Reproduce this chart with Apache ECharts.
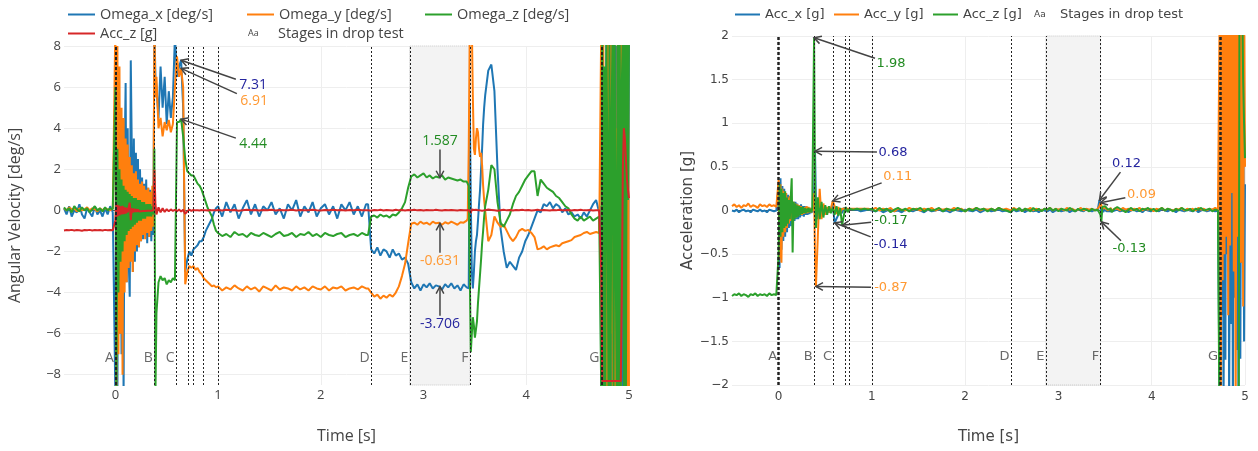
<!DOCTYPE html>
<html>
<head>
<meta charset="utf-8">
<title>Drop test</title>
<script src="https://cdn.jsdelivr.net/npm/echarts@6/dist/echarts.min.js"></script>
<style>
  html, body { margin: 0; padding: 0; background: #fff; }
  #chart { width: 1258px; height: 451px; }
</style>
</head>
<body>
<div id="chart"></div>
<script>
// sample times [s], one row per segment of the recording
const time = [
  [-0.5, -0.475, -0.45, -0.425, -0.4, -0.375, -0.35, -0.325, -0.3, -0.275, -0.25, -0.225, -0.2, -0.175, -0.15, -0.125, -0.1, -0.075, -0.05, -0.025],
  [0, 0.01, 0.02, 0.03, 0.04, 0.05, 0.06, 0.07, 0.08, 0.09, 0.1, 0.11, 0.12, 0.13, 0.14, 0.15, 0.16, 0.17, 0.18, 0.19, 0.2, 0.21, 0.22, 0.23, 0.24, 0.25, 0.26, 0.27, 0.28, 0.29, 0.3, 0.31, 0.32, 0.33, 0.34, 0.35, 0.36, 0.37, 0.38, 0.39],
  [0.4, 0.42, 0.44, 0.46, 0.48, 0.5, 0.52, 0.54, 0.56, 0.58, 0.6, 0.62, 0.64, 0.66, 0.68, 0.7, 0.72, 0.74, 0.76, 0.78, 0.8, 0.82, 0.84, 0.86, 0.88, 0.9, 0.92, 0.94, 0.96, 0.98],
  [1, 1.04, 1.08, 1.12, 1.16, 1.2, 1.24, 1.28, 1.32, 1.36, 1.4, 1.44, 1.48, 1.52, 1.56, 1.6, 1.64, 1.68, 1.72, 1.76, 1.8, 1.84, 1.88, 1.92, 1.96, 2, 2.04, 2.08, 2.12, 2.16, 2.2, 2.24, 2.28, 2.32, 2.36, 2.4, 2.44],
  [2.46, 2.49, 2.52, 2.55, 2.58, 2.61, 2.64, 2.67, 2.7, 2.73, 2.76, 2.79, 2.82, 2.85, 2.88, 2.91, 2.94, 2.97, 3, 3.03, 3.06, 3.09, 3.12, 3.15, 3.18, 3.21, 3.24, 3.27, 3.3, 3.33, 3.36, 3.39, 3.42],
  [3.43, 3.44, 3.45, 3.46, 3.47, 3.48, 3.49, 3.5, 3.51, 3.52, 3.53, 3.54, 3.55, 3.56, 3.57, 3.58, 3.59, 3.6],
  [3.63, 3.66, 3.69, 3.72, 3.75, 3.78, 3.81, 3.84, 3.87, 3.9, 3.93, 3.96, 3.99, 4.02, 4.05, 4.08, 4.11, 4.14, 4.17, 4.2, 4.23, 4.26, 4.29, 4.32, 4.35, 4.38, 4.41, 4.44, 4.47, 4.5, 4.53, 4.56, 4.59, 4.62, 4.65, 4.68, 4.71],
  [4.72, 4.73, 4.74, 4.75, 4.76, 4.77, 4.78, 4.79, 4.8, 4.81, 4.82, 4.83, 4.84, 4.85, 4.86, 4.87, 4.88, 4.89, 4.9, 4.91, 4.92, 4.93, 4.94, 4.95, 4.96, 4.97, 4.98, 4.99, 5]
]

// angular velocity [deg/s]
const omegaX = [
  [0.1, -0.2, 0.2, -0.3, 0, -0.1, 0.3, -0.2, -0.4, 0.1, -0.1, -0.3, 0.2, -0.2, 0, -0.3, 0.1, -0.2, 0.2, -0.1],
  [-9, 3, -9, 5, -6, 4, -7, 3.5, -9, 2.5, 6.2, -3.5, 4, -2.5, -4.2, 7.3, 3, -3, 3.5, -2.5, 2.8, -2, 2.5, -1.8, 2, -1.5, 1.6, -1.4, 1.3, -1.2, 1.5, -1.6, 1.1, -1.3, 1, -1.5, 0.8, -1.2, 9, 6.5],
  [6, 4.5, 7, 5, 6.5, 4.2, 5.8, 4.5, 5.5, 8.5, 6.5, 7, 7.31, 5, -3, -2.4, -2, -2.2, -1.9, -1.8, -1.7, -1.5, -1.5, -1.3, -1, -0.8, -0.6, -0.4, -0.1, 0.1],
  [0.2, -0.3, 0.4, -0.1, 0.3, -0.4, 0.1, 0.5, -0.2, 0.3, -0.3, 0.2, 0, 0.4, -0.2, 0.1, -0.4, 0.3, 0, 0.5, -0.3, 0.2, -0.1, 0.4, -0.3, 0.1, 0.3, -0.2, 0.2, -0.4, 0.3, 0, 0.4, -0.2, 0.2, -0.3, 0.3],
  [0.3, -1.9, -2.1, -1.8, -2.2, -1.9, -2, -2.3, -1.9, -2.2, -2.1, -2.4, -2.3, -2.6, -3.5, -3.8, -3.6, -3.9, -3.6, -3.75, -3.55, -3.8, -3.65, -3.7, -3.85, -3.6, -3.75, -3.55, -3.8, -3.65, -3.9, -3.6, -3.75],
  [-3.7, -3.8, 5.2, 0.5, -3, -3.8, -3, -2, -1.5, -1.2, -0.5, 0.3, 1, 2, 3, 4.2, 5, 5.6],
  [6.8, 7.1, 5.8, 2, -0.9, -2, -2.8, -2.5, -2.7, -2.9, -2.3, -2, -1.5, -1.2, -0.8, -0.4, 0, -0.1, 0.3, 0.2, 0.4, 0.1, 0.3, 0.2, -0.1, 0.1, -0.2, -0.1, -0.3, -0.2, -0.4, -0.1, -0.3, 0, 0.3, 0.5, -0.1],
  [0.2, -9, 9, -9, 6, -9, 9, -4, 9, -9, 3, -9, 9, -7, 9, -9, 8, -9, 9, -5, 9, -9, 9, -9, 7, -9, 9, -6, 9]
]
const omegaY = [
  [0.1, 0, 0.15, 0.05, 0.1, -0.05, 0.1, 0, 0.05, 0.15, 0, 0.1, 0.05, -0.05, 0.1, 0, 0.1, 0.05, 0, 0.1],
  [9, -9, 8, -7, 7, -6, 5, -8, 4.5, -4, 3.5, -3.5, 3.2, -2.8, 2.6, -2.5, 2.2, -3, 1.8, -2, 1.9, -1.7, 1.5, -1.8, 1.3, -1.5, 1.4, -1.2, 1.2, -1.4, 1, -1.1, 1.1, -1.3, 0.9, -1, 1.2, -0.8, 9, 5.5],
  [6.5, 4, 4.5, 3.6, 4.3, 3.9, 4.4, 3.8, 4.2, 6, 7.5, 6.5, 6.91, 6, -3.6, -3, -2.7, -2.8, -2.7, -2.9, -2.8, -3, -3.1, -3.3, -3.4, -3.5, -3.6, -3.7, -3.65, -3.75],
  [-3.7, -3.9, -3.75, -3.85, -3.65, -3.8, -3.9, -3.7, -3.85, -3.75, -3.95, -3.7, -3.8, -3.9, -3.65, -3.85, -3.75, -3.8, -3.9, -3.7, -3.85, -3.75, -3.9, -3.7, -3.8, -3.85, -3.7, -3.9, -3.75, -3.8, -3.7, -3.9, -3.8, -3.75, -3.85, -3.7, -3.8],
  [-3.8, -4, -4.2, -4.1, -4.3, -4.15, -4.25, -4.1, -4.2, -4, -3.7, -3.2, -2.6, -1.6, -0.65, -0.6, -0.7, -0.55, -0.65, -0.6, -0.7, -0.55, -0.63, -0.6, -0.7, -0.58, -0.65, -0.55, -0.62, -0.7, -0.58, -0.6, -0.5],
  [-0.4, 3, 9, 9, 9, 5.5, 3, 2.7, 3.5, 4, 3.8, 3, 2.6, 2.8, 2.2, 1.2, 0.5, 0],
  [-1.5, -1.2, -0.3, -0.6, -0.8, -0.7, -1, -1.3, -1.5, -1.3, -1, -0.9, -1, -0.95, -1.1, -1.3, -1.9, -1.85, -1.75, -1.9, -1.8, -1.75, -1.7, -1.75, -1.6, -1.55, -1.5, -1.45, -1.3, -1.25, -1.2, -1.1, -1.05, -1.15, -1.1, -1.05, -1.1],
  [-1.1, 9, -9, 9, -9, 5, -9, 9, -9, 9, -6, 9, -9, 9, -9, 4, -9, 9, -9, 9, -9, 9, -3, 9, -9, 9, -9, 9, -9]
]
const omegaZ = [
  [0.15, 0, 0.1, -0.1, 0.2, 0.05, -0.05, 0.15, 0, 0.1, -0.1, 0.05, 0.2, 0, 0.1, -0.05, 0.15, 0, 0.1, 0.05],
  [6, -9, 3, -4, 2, -2.5, 1.5, -2, 1.2, -1.5, 1, -1.2, 0.9, -1, 0.8, -0.9, 0.7, -0.8, 0.6, -0.7, 0.6, -0.6, 0.5, -0.5, 0.5, -0.5, 0.4, -0.4, 0.4, -0.4, 0.3, -0.3, 0.3, -0.3, 0.3, -0.3, 0.2, -0.2, 3, -9],
  [-5, -3.5, -3.2, -3.4, -3.3, -3.6, -3.4, -3.5, -3.3, -3.4, 4.3, 4.3, 4.44, 3.6, 2.5, 1.9, 1.8, 1.7, 1.7, 1.5, 1.3, 1.2, 1, 0.7, 0.4, 0.1, -0.1, -0.3, -0.7, -1],
  [-1.1, -1.25, -1.15, -1.3, -1.05, -1.2, -1.15, -1.3, -1.1, -1.2, -1.25, -1.1, -1.2, -1.3, -1.15, -1.05, -1.25, -1.2, -1.1, -1.3, -1.15, -1.2, -1.05, -1.25, -1.15, -1.3, -1.1, -1.2, -1.25, -1.15, -1.1, -1.3, -1.2, -1.15, -1.25, -1.1, -1.2],
  [-1.2, -0.3, -0.25, -0.35, -0.2, -0.3, -0.25, -0.35, -0.2, -0.25, -0.1, 0.1, 0.4, 1.1, 1.65, 1.75, 1.6, 1.7, 1.8, 1.6, 1.7, 1.55, 1.65, 1.6, 1.7, 1.5, 1.6, 1.55, 1.5, 1.45, 1.5, 1.4, 1.4],
  [1.4, 1.2, -3, -6.9, -6, -5.2, -5.6, -6.2, -5.8, -5.4, -4.5, -3.8, -3.1, -2.4, -1.6, -1, -0.3, 0.2],
  [1, 2.2, 2, 0.4, -0.6, -0.8, -0.5, -0.2, 0.3, 0.7, 0.9, 1.2, 1.5, 1.7, 1.9, 1.9, 0.7, 1.5, 1.3, 1.1, 1, 0.9, 0.7, 0.6, 0.4, 0.2, 0.1, -0.2, -0.4, -0.5, -0.3, -0.5, -0.4, -0.3, -0.5, -0.4, -0.3],
  [-0.3, -9, 9, -9, 7, -9, 9, 2, -9, 9, -9, 4, 9, -9, 9, -2, -9, 9, -9, 9, -9, 6, 9, -9, 9, -9, 9, 0.5, 9]
]

// acceleration [g]
const accX = [
  [0, -0.01, 0.01, -0.02, 0, 0.01, -0.01, 0, -0.02, 0.01, 0, -0.01, 0.01, -0.01, 0, -0.02, 0.01, 0, -0.01, 0],
  [0.3, -0.66, 0.37, -0.45, 0.28, -0.35, 0.25, -0.3, 0.2, -0.25, 0.18, -0.2, 0.15, -0.18, 0.12, -0.15, 0.1, -0.12, 0.1, -0.1, 0.08, -0.1, 0.06, -0.08, 0.07, -0.06, 0.05, -0.07, 0.05, -0.05, 0.04, -0.05, 0.03, -0.04, 0.03, -0.03, 0.02, -0.02, 0.2, 0.68],
  [0.1, -0.1, 0.08, -0.05, 0.04, -0.03, 0.02, -0.02, 0.02, 0.08, -0.14, -0.12, -0.05, 0.02, -0.03, 0.03, 0.01, -0.01, 0.02, 0, 0.01, -0.01, 0.01, 0, -0.01, 0.01, 0, -0.01, 0.01, 0],
  [0, -0.01, 0.01, -0.02, 0, 0.01, -0.01, 0, -0.02, 0.01, 0, -0.01, 0.01, 0, -0.02, 0.01, -0.01, 0, 0.01, -0.01, 0, -0.02, 0.01, 0, -0.01, 0.01, 0, -0.01, 0.01, -0.02, 0, 0.01, -0.01, 0, 0.01, -0.01, 0],
  [0, -0.02, 0.01, -0.01, 0, 0.01, -0.02, 0, 0.01, -0.01, 0, -0.02, 0.01, 0, -0.01, 0.01, -0.02, 0, 0.01, -0.01, 0, 0.01, -0.02, 0, -0.01, 0.01, 0, -0.01, 0.02, 0, -0.01, 0.01, 0],
  [0, 0.12, 0.05, -0.05, 0.02, -0.02, 0.01, 0, 0.01, -0.01, 0, 0.01, -0.01, 0, 0.01, -0.01, 0, 0.01],
  [0.01, -0.01, 0, 0.01, -0.02, 0, 0.01, -0.01, 0, -0.02, 0.01, 0, -0.01, 0.01, 0, -0.01, 0.02, 0, -0.01, 0.01, 0, -0.02, 0.01, 0, -0.01, 0.01, 0, -0.01, 0.01, -0.02, 0, 0.01, -0.01, 0, 0.01, -0.01, 0],
  [0, -2.5, 2.5, -1.2, 2.5, -2.5, 1.5, -1.71, 2.5, -0.5, 2.5, -2.5, 1, -1.3, 2.5, -2.5, 0.8, -1, 2.5, -1.6, 2.5, -2.5, 0.5, -1.7, 1.5, -0.6, 2, -1.5, 0.3]
]
const accY = [
  [0.05, 0.07, 0.04, 0.06, 0.03, 0.06, 0.05, 0.08, 0.04, 0.06, 0.05, 0.03, 0.07, 0.05, 0.06, 0.04, 0.07, 0.05, 0.06, 0.04],
  [0.35, -0.55, 0.3, -0.6, 0.25, -0.3, 0.22, -0.25, 0.2, -0.2, 0.15, -0.15, 0.17, -0.12, 0.12, -0.1, 0.1, -0.08, 0.08, -0.08, 0.07, -0.06, 0.06, -0.05, 0.05, -0.05, 0.04, -0.04, 0.04, -0.03, 0.05, -0.03, 0.04, -0.02, 0.03, -0.02, 0.03, 0, 0.2, -0.5],
  [-0.87, -0.3, 0.25, -0.1, 0.08, -0.05, 0.04, -0.02, 0.02, 0.11, 0.05, -0.04, 0.04, -0.03, 0.02, 0, 0.02, 0, 0.02, 0.01, 0.02, 0, 0.02, 0.01, 0.02, 0, 0.02, 0.01, 0.02, 0.01],
  [0.01, 0.03, 0, 0.02, 0.01, 0.03, -0.01, 0.02, 0.01, 0, 0.03, 0.01, 0.02, 0, 0.02, 0.01, 0.03, 0, 0.02, 0.01, 0.02, 0, 0.03, 0.01, 0.02, -0.01, 0.02, 0.01, 0.03, 0, 0.02, 0.01, 0.02, 0, 0.03, 0.01, 0.02],
  [0.02, 0, 0.03, 0.01, 0.02, -0.01, 0.02, 0.01, 0.03, 0, 0.02, 0.01, 0, 0.02, 0.01, 0.03, 0, 0.02, 0.01, 0.02, 0, 0.03, 0.01, 0.02, 0, 0.01, 0.03, 0, 0.02, 0.01, 0.02, 0, 0.02],
  [0.02, 0.05, 0.09, 0.06, 0.02, 0.04, 0, 0.03, 0.01, 0.02, 0, 0.02, 0.01, 0.03, 0, 0.02, 0.01, 0.02],
  [0.02, 0, 0.03, 0.01, 0.02, 0, 0.02, 0.01, 0.03, 0, 0.02, 0.01, 0.02, -0.01, 0.02, 0.01, 0.03, 0, 0.02, 0.01, 0, 0.02, 0.01, 0.03, 0, 0.02, 0.01, 0.02, 0, 0.03, 0.01, 0.02, 0, 0.02, 0.01, 0.03, 0.01],
  [0.02, 2.5, -2.5, 2.5, -0.8, 2.5, -0.5, 2.5, -0.3, 2.5, -1.2, 2.5, -0.4, 2.5, 0.2, 2.5, -0.7, 2.5, -2.5, 2.5, -0.3, 2.5, -0.6, 2.5, -0.6, 2.5, -1.1, 2.5, 0.5]
]
const accZ = [
  [-0.98, -0.96, -0.97, -0.95, -0.98, -0.96, -0.97, -0.99, -0.96, -0.97, -0.95, -0.98, -0.96, -0.97, -0.96, -0.98, -0.95, -0.97, -0.96, -0.97],
  [-0.5, 0.3, -0.3, 0.25, -0.25, 0.2, -0.2, 0.22, -0.18, 0.15, -0.15, 0.12, -0.1, 0.15, 0.37, -0.48, 0.1, -0.1, 0.08, -0.08, 0.06, -0.07, 0.05, -0.05, 0.04, -0.04, 0.04, -0.03, 0.03, -0.03, 0.02, -0.02, 0.03, -0.02, 0.02, -0.02, 0.02, 0, 1.98, 0.3],
  [-0.2, 0.15, -0.1, 0.1, -0.08, 0.06, -0.05, 0.05, -0.03, 0.03, -0.05, 0.05, -0.06, 0.03, -0.17, -0.05, 0.04, -0.02, 0.02, 0, 0.01, -0.01, 0.02, 0, 0.01, -0.01, 0.02, 0, 0.01, 0],
  [0.02, -0.01, 0.03, 0, 0.02, -0.02, 0.01, 0.03, 0, 0.02, -0.01, 0.02, 0.01, 0.03, -0.01, 0.02, 0, 0.01, 0.03, -0.01, 0.02, 0.01, 0, 0.03, 0.01, -0.01, 0.02, 0, 0.03, 0.01, 0.02, -0.01, 0.02, 0, 0.03, 0.01, 0],
  [0.01, -0.02, 0.02, 0, 0.03, -0.01, 0.02, 0.01, -0.01, 0.03, 0, 0.02, -0.01, 0.02, 0.01, 0.03, 0, 0.02, -0.01, 0.02, 0.01, 0, 0.03, 0.01, -0.01, 0.02, 0, 0.02, 0.01, -0.01, 0.02, 0, 0.01],
  [0.01, 0.02, -0.05, -0.13, 0.04, 0.06, 0.02, 0.05, 0.03, 0.05, 0.01, 0.03, 0, 0.02, -0.02, -0.03, 0, 0.02],
  [0.04, 0.02, 0, -0.02, 0.01, 0.03, 0, 0.02, -0.01, 0.02, 0.01, 0.03, 0, 0.02, -0.01, 0.01, 0.03, 0, 0.02, 0.01, -0.01, 0.02, 0, 0.03, 0.01, 0, 0.02, -0.01, 0.02, 0.01, 0.03, 0, 0.01, 0.02, -0.01, 0.01, 0],
  [0.01, -3, -8.3, -8.3, -8.3, -8.3, -8.3, -8.3, -8.3, -8.3, -8.3, -8.3, -8.3, -8.3, -8.3, -8.3, -8.3, -8.3, -8.3, -8.3, -8.3, -4, 2, 4, 3.5, 2.5, 1.5, 1, 0.6]
]

// stages of the drop test
const stageNames = ['A', 'B', 'C', 'D', 'E', 'F', 'G']
const stageTimes = [0, 0.38, 0.59, 2.49, 2.865, 3.452, 4.727]
const extraLinesLeft = [0.712, 0.76, 0.859, 1.0]
const extraLinesRight = [0.712, 0.76, 1.0]

// annotated values
const annLeft = [
  { t: 0.64, v: 7.31, text: '7.31', c: 'navy', ax: 72, ay: 25 },
  { t: 0.64, v: 6.91, text: '6.91', c: 'orange', ax: 73, ay: 33 },
  { t: 0.64, v: 4.44, text: '4.44', c: 'green', ax: 72, ay: 25 },
  { t: 3.16, v: 1.587, text: '1.587', c: 'green', ax: 0, ay: -37 },
  { t: 3.16, v: -0.631, text: '-0.631', c: 'orange', ax: 0, ay: 38 },
  { t: 3.16, v: -3.706, text: '-3.706', c: 'navy', ax: 0, ay: 38 }
]
const annRight = [
  { t: 0.38, v: 1.98, text: '1.98', c: 'green', ax: 77, ay: 26 },
  { t: 0.39, v: 0.68, text: '0.68', c: 'navy', ax: 78, ay: 1 },
  { t: 0.58, v: 0.11, text: '0.11', c: 'orange', ax: 65, ay: -24 },
  { t: 0.68, v: -0.17, text: '-0.17', c: 'green', ax: 49, ay: -5 },
  { t: 0.6, v: -0.14, text: '-0.14', c: 'navy', ax: 56, ay: 22 },
  { t: 0.4, v: -0.87, text: '-0.87', c: 'orange', ax: 75, ay: 1 },
  { t: 3.44, v: 0.12, text: '0.12', c: 'navy', ax: 27, ay: -36 },
  { t: 3.45, v: 0.09, text: '0.09', c: 'orange', ax: 41, ay: -8 },
  { t: 3.46, v: -0.13, text: '-0.13', c: 'green', ax: 28, ay: 27 }
]

const LEFT_FONT = "'Open Sans', sans-serif"
const RIGHT_FONT = "'DejaVu Sans', sans-serif"
const TEXT = '#444'
const annColors = { navy: '#25259f', orange: '#ff9933', green: '#228b22' }

function pairs (vals) {
  const out = []
  time.forEach((seg, s) => seg.forEach((t, i) => out.push([t, vals[s][i]])))
  return out
}

function dataLine (name, vals, color, idx) {
  return {
    name,
    type: 'line',
    xAxisIndex: idx,
    yAxisIndex: idx,
    data: pairs(vals),
    showSymbol: false,
    symbol: 'none',
    lineStyle: { color, width: 2 },
    itemStyle: { color },
    z: 2
  }
}

function backdrop (idx) {
  return {
    type: 'line',
    xAxisIndex: idx,
    yAxisIndex: idx,
    data: [],
    silent: true,
    markLine: {
      z: 1,
      silent: true,
      symbol: 'none',
      label: { show: false },
      lineStyle: { color: '#555', width: 1, type: 'solid' },
      data: [{ yAxis: 0 }]
    },
    markArea: {
      silent: true,
      itemStyle: { color: '#f3f3f3', borderColor: '#c8c8c8', borderWidth: 1, borderType: 'dotted' },
      data: [[{ xAxis: stageTimes[4] }, { xAxis: stageTimes[5] }]]
    }
  }
}

function stages (name, idx, labelY, extra, font, size, thick) {
  const lines = stageTimes.concat(extra).map(t => {
    const heavy = t === stageTimes[0] || t === stageTimes[6]
    return {
      xAxis: t,
      lineStyle: { color: '#222', width: heavy ? thick : 1, type: heavy ? [3, 2] : [2, 2] }
    }
  })
  return {
    name,
    type: 'scatter',
    xAxisIndex: idx,
    yAxisIndex: idx,
    data: stageNames.map((s, i) => [stageTimes[i], labelY, s]),
    symbolSize: 1,
    itemStyle: { color: 'rgba(0,0,0,0)' },
    z: 6,
    silent: true,
    label: {
      show: true,
      position: 'left',
      distance: 1,
      formatter: p => p.data[2],
      color: TEXT,
      fontFamily: font,
      fontSize: size
    },
    markLine: {
      silent: true,
      symbol: 'none',
      label: { show: false },
      data: lines
    }
  }
}

function leg (name, left, top, font, size, shown, width) {
  return {
    data: [{ name, icon: 'rect' }],
    left,
    top,
    padding: 0,
    itemWidth: width,
    itemHeight: 2,
    selectedMode: false,
    formatter: () => shown,
    textStyle: { color: TEXT, fontFamily: font, fontSize: size }
  }
}

function stageLeg (name, left, top, font, size, gap) {
  return {
    data: [{ name, icon: 'none' }],
    left,
    top,
    padding: 0,
    itemWidth: 0,
    itemHeight: 2,
    selectedMode: false,
    formatter: () => '{aa|Aa}Stages in drop test',
    textStyle: {
      color: TEXT,
      fontFamily: font,
      fontSize: size,
      rich: { aa: { fontSize: 9, width: gap, color: TEXT, fontFamily: font } }
    }
  }
}

const minusFmt = v => String(v).replace('-', '\u2212')

const option = {
  animation: false,
  backgroundColor: '#fff',
  grid: [
    { left: 64, top: 46, width: 565, height: 339 },
    { left: 732, top: 36, width: 513, height: 349 }
  ],
  legend: [
    leg('Omega_x [deg/s]', 68, 7, LEFT_FONT, 14.5, 'Omega_x [deg/s]', 27),
    leg('Omega_y [deg/s]', 247, 7, LEFT_FONT, 14.5, 'Omega_y [deg/s]', 27),
    leg('Omega_z [deg/s]', 425, 7, LEFT_FONT, 14.5, 'Omega_z [deg/s]', 27),
    leg('Acc_z [g]', 68, 26, LEFT_FONT, 14.5, 'Acc_z [g]', 27),
    stageLeg('Stages in drop test', 243, 26, LEFT_FONT, 14.5, 30),
    leg('accXRight', 735, 8, RIGHT_FONT, 13, 'Acc_x [g]', 25),
    leg('accYRight', 834, 8, RIGHT_FONT, 13, 'Acc_y [g]', 25),
    leg('accZRight', 933, 8, RIGHT_FONT, 13, 'Acc_z [g]', 25),
    stageLeg('stagesRight', 1029, 8, RIGHT_FONT, 13, 26)
  ],
  xAxis: [
    {
      type: 'value', gridIndex: 0, min: -0.5, max: 5,
      axisLine: { show: false },
      axisTick: { show: false, customValues: [0, 1, 2, 3, 4, 5] },
      splitLine: { show: true, lineStyle: { color: '#eee' } },
      axisLabel: { customValues: [0, 1, 2, 3, 4, 5], color: TEXT, fontFamily: LEFT_FONT, fontSize: 13, margin: 4 },
      name: 'Time [s]', nameLocation: 'middle', nameGap: 43,
      nameTextStyle: { color: TEXT, fontFamily: LEFT_FONT, fontSize: 16 }
    },
    {
      type: 'value', gridIndex: 1, min: -0.5, max: 5,
      axisLine: { show: false },
      axisTick: { show: false, customValues: [0, 1, 2, 3, 4, 5] },
      splitLine: { show: true, lineStyle: { color: '#eee' } },
      axisLabel: { customValues: [0, 1, 2, 3, 4, 5], color: TEXT, fontFamily: RIGHT_FONT, fontSize: 12, margin: 6 },
      name: 'Time [s]', nameLocation: 'middle', nameGap: 45,
      nameTextStyle: { color: TEXT, fontFamily: RIGHT_FONT, fontSize: 15 }
    }
  ],
  yAxis: [
    {
      type: 'value', gridIndex: 0, min: -8.5, max: 8,
      axisLine: { show: false },
      axisTick: { show: false, customValues: [-8, -6, -4, -2, 0, 2, 4, 6, 8] },
      splitLine: { show: true, lineStyle: { color: '#eee' } },
      axisLabel: { customValues: [-8, -6, -4, -2, 0, 2, 4, 6, 8], color: TEXT, fontFamily: LEFT_FONT, fontSize: 13, margin: 3, formatter: minusFmt },
      name: 'Angular Velocity [deg/s]', nameLocation: 'middle', nameGap: 41,
      nameTextStyle: { color: TEXT, fontFamily: LEFT_FONT, fontSize: 16 }
    },
    {
      type: 'value', gridIndex: 1, min: -2, max: 2, interval: 0.5,
      axisLine: { show: false },
      axisTick: { show: false },
      splitLine: { show: true, lineStyle: { color: '#eee' } },
      axisLabel: { color: TEXT, fontFamily: RIGHT_FONT, fontSize: 12, margin: 3, formatter: minusFmt },
      name: 'Acceleration [g]', nameLocation: 'middle', nameGap: 36,
      nameTextStyle: { color: TEXT, fontFamily: RIGHT_FONT, fontSize: 15 }
    }
  ],
  series: [
    backdrop(0),
    backdrop(1),
    dataLine('Omega_x [deg/s]', omegaX, '#1f77b4', 0),
    dataLine('Omega_y [deg/s]', omegaY, '#ff7f0e', 0),
    dataLine('Omega_z [deg/s]', omegaZ, '#2ca02c', 0),
    dataLine('Acc_z [g]', accZ, '#d62728', 0),
    dataLine('accXRight', accX, '#1f77b4', 1),
    dataLine('accYRight', accY, '#ff7f0e', 1),
    dataLine('accZRight', accZ, '#2ca02c', 1),
    stages('Stages in drop test', 0, -7.2, extraLinesLeft, LEFT_FONT, 14, 2),
    stages('stagesRight', 1, -1.67, extraLinesRight, RIGHT_FONT, 13, 2.5)
  ]
}

const chart = echarts.init(document.getElementById('chart'), null, { renderer: 'canvas' })
chart.setOption(option)

// arrows from label to point, like plotly annotations
function arrow (idx, a, font, size) {
  const [px, py] = chart.convertToPixel({ xAxisIndex: idx, yAxisIndex: idx }, [a.t, a.v])
  const cx = px + a.ax
  const cy = py + a.ay
  const hw = a.text.length * size * 0.29 + 1
  const hh = size * 0.62
  const dx = px - cx
  const dy = py - cy
  const s = Math.min(dx ? hw / Math.abs(dx) : Infinity, dy ? hh / Math.abs(dy) : Infinity)
  const tx = cx + dx * s
  const ty = cy + dy * s
  const ang = Math.atan2(py - ty, px - tx)
  const L = 8
  const w = 0.5
  const color = annColors[a.c]
  return [
    { type: 'line', silent: true, z: 20, shape: { x1: tx, y1: ty, x2: px, y2: py }, style: { stroke: TEXT, lineWidth: 1.5 } },
    {
      type: 'polyline', silent: true, z: 20,
      shape: { points: [[px - L * Math.cos(ang - w), py - L * Math.sin(ang - w)], [px, py], [px - L * Math.cos(ang + w), py - L * Math.sin(ang + w)]] },
      style: { stroke: TEXT, lineWidth: 1.5, fill: null }
    },
    {
      type: 'text', silent: true, z: 21, x: cx, y: cy,
      style: { text: a.text, fill: color, font: size + 'px ' + font, textAlign: 'center', textVerticalAlign: 'middle', verticalAlign: 'middle' }
    }
  ]
}

const graphics = []
annLeft.forEach(a => graphics.push(...arrow(0, a, LEFT_FONT, 14)))
annRight.forEach(a => graphics.push(...arrow(1, a, RIGHT_FONT, 13)))
chart.setOption({ graphic: graphics })
</script>
</body>
</html>
